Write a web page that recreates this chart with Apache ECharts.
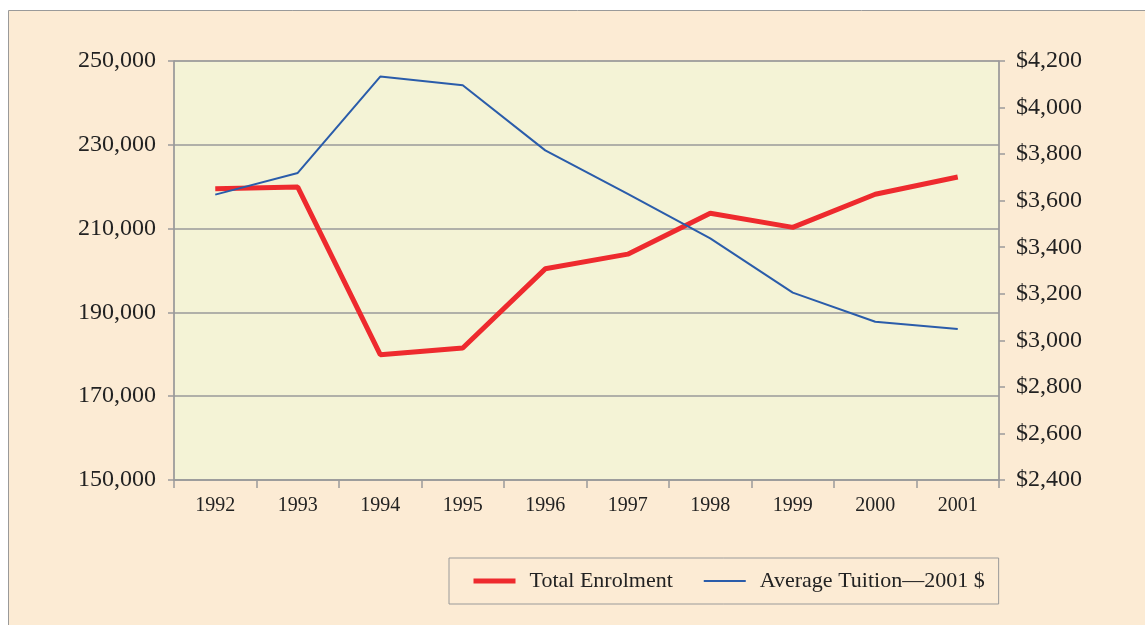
<!DOCTYPE html>
<html>
<head>
<meta charset="utf-8">
<script src="https://cdn.jsdelivr.net/npm/echarts@6/dist/echarts.min.js"></script>
<style>
html,body{margin:0;padding:0;background:#fff;}
#c{width:1145px;height:625px;}
</style>
</head>
<body>
<div id="c"></div>
<script>
var years = ['1992','1993','1994','1995','1996','1997','1998','1999','2000','2001'];
var enrolment = [219500, 219900, 179900, 181500, 200400, 203900, 213650, 210300, 218200, 222300];
var tuition = [3626, 3719, 4133, 4096, 3816, 3629, 3438, 3205, 3080, 3049];
var seriesNames = ['Total Enrolment', 'Average Tuition\u20142001 $'];

var serif = '"Liberation Serif", "DejaVu Serif", serif';
var chart = echarts.init(document.getElementById('c'));
chart.setOption({
  backgroundColor: '#ffffff',
  animation: false,
  graphic: [{
    type: 'rect', z: -10, silent: true,
    shape: { x: 8.5, y: 10.5, width: 1160, height: 640 },
    style: { fill: '#FCEBD4', stroke: '#9a9a9a', lineWidth: 1 }
  }],
  grid: {
    left: 174, right: 146, top: 61, bottom: 145,
    show: true, backgroundColor: '#F4F3D6', borderColor: '#9a9a9a', borderWidth: 1
  },
  legend: {
    left: 449, top: 558,
    padding: [12, 14, 12, 22],
    itemGap: 30, itemWidth: 42, itemHeight: 20,
    borderColor: '#9a9a9a', borderWidth: 1,
    textStyle: { fontFamily: serif, fontSize: 22, color: '#222', padding: [0, 0, 0, 9] },
    itemStyle: { opacity: 0 },
    data: [
      { name: seriesNames[0], lineStyle: { width: 5 } },
      { name: seriesNames[1], lineStyle: { width: 2 } }
    ]
  },
  xAxis: {
    type: 'category', data: years, boundaryGap: true,
    axisLine: { lineStyle: { color: '#9a9a9a', width: 1.5 } },
    axisTick: { show: true, length: 8, lineStyle: { color: '#9a9a9a', width: 1.5 } },
    axisLabel: { fontFamily: serif, fontSize: 20, color: '#222', margin: 16 }
  },
  yAxis: [{
    type: 'value', min: 150000, max: 250000, interval: 20000, position: 'left',
    axisLine: { show: true, lineStyle: { color: '#9a9a9a', width: 1.5 } },
    axisTick: { show: true, length: 6, lineStyle: { color: '#9a9a9a', width: 1.5 } },
    splitLine: { show: true, lineStyle: { color: '#9a9a9a', width: 1.5 } },
    axisLabel: {
      fontFamily: serif, fontSize: 24, color: '#222', margin: 18,
      formatter: function (v) { return v.toLocaleString('en-US'); }
    }
  }, {
    type: 'value', min: 2400, max: 4200, interval: 200, position: 'right',
    axisLine: { show: true, lineStyle: { color: '#9a9a9a', width: 1.5 } },
    axisTick: { show: true, length: 6, lineStyle: { color: '#9a9a9a', width: 1.5 } },
    splitLine: { show: false },
    axisLabel: {
      fontFamily: serif, fontSize: 24, color: '#222', margin: 17,
      formatter: function (v) { return '$' + v.toLocaleString('en-US'); }
    }
  }],
  series: [{
    name: seriesNames[0], type: 'line', yAxisIndex: 0, data: enrolment,
    symbol: 'none', lineStyle: { color: '#EE2A2E', width: 5 }, itemStyle: { color: '#EE2A2E' }, z: 3
  }, {
    name: seriesNames[1], type: 'line', yAxisIndex: 1, data: tuition,
    symbol: 'none', lineStyle: { color: '#2A5CAA', width: 2 }, itemStyle: { color: '#2A5CAA' }, z: 4
  }]
});
</script>
</body>
</html>
